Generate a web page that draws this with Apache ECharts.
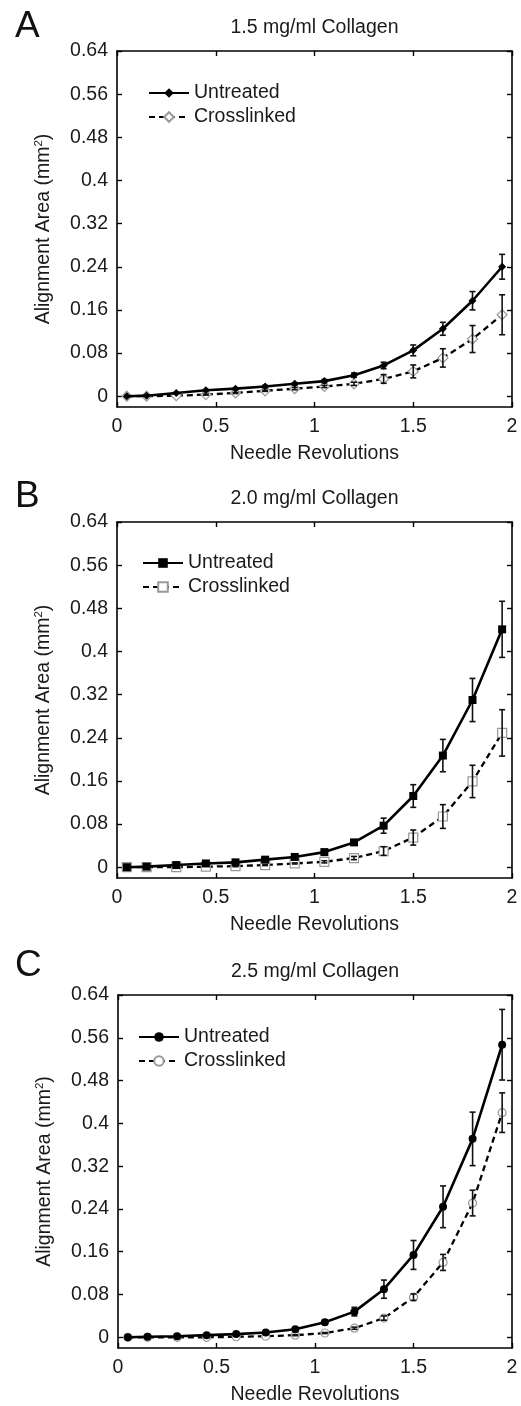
<!DOCTYPE html>
<html>
<head>
<meta charset="utf-8">
<script src="https://cdn.jsdelivr.net/npm/echarts@6/dist/echarts.min.js"></script>
<style>html,body{margin:0;padding:0;background:#fff}#c{width:521px;height:1406px}</style>
</head>
<body>
<div id="c"></div>
<script>
const xVals = [0.05, 0.15, 0.3, 0.45, 0.6, 0.75, 0.9, 1.05, 1.2, 1.35, 1.5, 1.65, 1.8, 1.95];
const yTicks = [0, 0.08, 0.16, 0.24, 0.32, 0.4, 0.48, 0.56, 0.64];
const xTicks = [0, 0.5, 1, 1.5, 2];

const panelLetters = ['A', 'B', 'C'];
const panelTitles = ['1.5 mg/ml Collagen', '2.0 mg/ml Collagen', '2.5 mg/ml Collagen'];
const seriesNames = ['Untreated', 'Crosslinked'];

const aUntreated    = [0, 0.001, 0.006, 0.011, 0.014, 0.018, 0.023, 0.028, 0.039, 0.057, 0.085, 0.125, 0.177, 0.240];
const aUntreatedErr = [0, 0, 0.001, 0.001, 0.001, 0.002, 0.002, 0.003, 0.004, 0.006, 0.010, 0.012, 0.017, 0.023];
const aCross        = [0, 0, 0.001, 0.003, 0.006, 0.010, 0.014, 0.018, 0.023, 0.032, 0.046, 0.071, 0.106, 0.151];
const aCrossErr     = [0, 0, 0, 0.001, 0.001, 0.001, 0.002, 0.002, 0.003, 0.008, 0.012, 0.017, 0.025, 0.037];

const bUntreated    = [0, 0.001, 0.004, 0.007, 0.009, 0.014, 0.019, 0.028, 0.046, 0.077, 0.132, 0.207, 0.310, 0.441];
const bUntreatedErr = [0, 0, 0.001, 0.001, 0.001, 0.002, 0.002, 0.003, 0.005, 0.014, 0.021, 0.030, 0.040, 0.052];
const bCross        = [0, 0, 0, 0.001, 0.002, 0.004, 0.007, 0.010, 0.017, 0.030, 0.055, 0.094, 0.159, 0.249];
const bCrossErr     = [0, 0, 0, 0, 0.001, 0.001, 0.001, 0.002, 0.003, 0.008, 0.014, 0.022, 0.030, 0.043];

const cUntreated    = [0, 0.001, 0.002, 0.004, 0.006, 0.009, 0.015, 0.028, 0.048, 0.090, 0.154, 0.244, 0.371, 0.547];
const cUntreatedErr = [0, 0, 0.001, 0.001, 0.001, 0.002, 0.002, 0.004, 0.008, 0.017, 0.027, 0.039, 0.050, 0.066];
const cCross        = [0, 0, 0, 0, 0.001, 0.002, 0.004, 0.008, 0.017, 0.036, 0.075, 0.140, 0.251, 0.420];
const cCrossErr     = [0, 0, 0, 0, 0, 0, 0.001, 0.001, 0.002, 0.004, 0.006, 0.015, 0.024, 0.037];

const panels = [
  {u: aUntreated, ue: aUntreatedErr, c: aCross, ce: aCrossErr, sym: 'diamond', usz: 8, csz: 10},
  {u: bUntreated, ue: bUntreatedErr, c: bCross, ce: bCrossErr, sym: 'rect', usz: 8, csz: 9},
  {u: cUntreated, ue: cUntreatedErr, c: cCross, ce: cCrossErr, sym: 'circle', usz: 8, csz: 8}
];

const gridTops = [51, 522, 995];
const gridLefts = [117, 117, 118];
const gridH = 356;
const FONT = '"Liberation Sans", Arial, Helvetica, sans-serif';
const TXT = '#1a1a1a';

const grids = [], xAxes = [], yAxes = [], series = [], legends = [], graphics = [];

function pairs(xs, ys) { return xs.map((x, i) => [x, ys[i]]); }
function errTriples(xs, ys, es) { return xs.map((x, i) => [x, ys[i] - es[i], ys[i] + es[i]]); }

function errRender(params, api) {
  const x = api.value(0), lo = api.value(1), hi = api.value(2);
  if (hi - lo <= 0) return null;
  const p1 = api.coord([x, lo]), p2 = api.coord([x, hi]);
  const w = 3;
  const st = {stroke: '#111', lineWidth: 1.6};
  return {type: 'group', children: [
    {type: 'line', shape: {x1: p1[0], y1: p1[1], x2: p2[0], y2: p2[1]}, style: st},
    {type: 'line', shape: {x1: p1[0] - w, y1: p1[1], x2: p1[0] + w, y2: p1[1]}, style: st},
    {type: 'line', shape: {x1: p2[0] - w, y1: p2[1], x2: p2[0] + w, y2: p2[1]}, style: st}
  ]};
}

panels.forEach((p, k) => {
  grids.push({left: gridLefts[k], right: 9, top: gridTops[k], height: gridH, show: false});
  const axLine = {show: true, onZero: false, lineStyle: {color: '#000', width: 1.6}};
  const tickIn = {show: true, inside: true, length: 5, lineStyle: {color: '#000', width: 1.4}};
  xAxes.push({
    type: 'value', gridIndex: k, position: 'bottom', min: 0, max: 2, interval: 0.5,
    axisLine: axLine, axisTick: Object.assign({}, tickIn, {customValues: xTicks}),
    axisLabel: {customValues: xTicks, color: TXT, fontSize: 19.5, fontFamily: FONT, margin: 10},
    splitLine: {show: false},
    name: 'Needle Revolutions', nameLocation: 'middle', nameGap: 37,
    nameTextStyle: {color: TXT, fontSize: 19.5, fontFamily: FONT}
  });
  xAxes.push({
    type: 'value', gridIndex: k, position: 'top', min: 0, max: 2, interval: 0.5,
    axisLine: axLine, axisTick: Object.assign({}, tickIn, {customValues: xTicks}),
    axisLabel: {show: false}, splitLine: {show: false},
    name: panelTitles[k], nameLocation: 'middle', nameGap: 13,
    nameTextStyle: {color: TXT, fontSize: 19.5, fontFamily: FONT}
  });
  yAxes.push({
    type: 'value', gridIndex: k, position: 'left', min: -0.02, max: 0.64,
    axisLine: axLine, axisTick: Object.assign({}, tickIn, {customValues: yTicks}),
    axisLabel: {customValues: yTicks, color: TXT, fontSize: 19.5, fontFamily: FONT, margin: 9},
    splitLine: {show: false},
    name: 'Alignment Area (mm{s|2})', nameLocation: 'middle', nameGap: 62,
    nameTextStyle: {color: TXT, fontSize: 19.5, fontFamily: FONT, lineHeight: 22,
      rich: {s: {fontSize: 11.5, fontFamily: FONT, color: TXT, verticalAlign: 'top', lineHeight: 11}}}
  });
  yAxes.push({
    type: 'value', gridIndex: k, position: 'right', min: -0.02, max: 0.64,
    axisLine: axLine, axisTick: Object.assign({}, tickIn, {customValues: yTicks}),
    axisLabel: {show: false}, splitLine: {show: false}
  });

  const xi = 2 * k, yi = 2 * k;
  const uName = panelLetters[k] + '|' + seriesNames[0];
  const cName = panelLetters[k] + '|' + seriesNames[1];

  series.push({
    type: 'custom', xAxisIndex: xi, yAxisIndex: yi, renderItem: errRender,
    data: errTriples(xVals, p.c, p.ce), encode: {x: 0, y: [1, 2]}, z: 3, silent: true
  });
  series.push({
    type: 'custom', xAxisIndex: xi, yAxisIndex: yi, renderItem: errRender,
    data: errTriples(xVals, p.u, p.ue), encode: {x: 0, y: [1, 2]}, z: 3, silent: true
  });
  series.push({
    name: cName, type: 'line', xAxisIndex: xi, yAxisIndex: yi,
    data: pairs(xVals, p.c), symbol: p.sym, symbolSize: p.csz, showAllSymbol: true,
    lineStyle: {color: '#000', width: 2.3, type: [6, 4]},
    itemStyle: {color: '#fff', borderColor: '#999', borderWidth: 1.2},
    z: 2
  });
  series.push({
    name: uName, type: 'line', xAxisIndex: xi, yAxisIndex: yi,
    data: pairs(xVals, p.u), symbol: p.sym, symbolSize: p.usz, showAllSymbol: true,
    lineStyle: {color: '#000', width: 2.6},
    itemStyle: {color: '#000', borderColor: '#000', borderWidth: 0},
    z: 4
  });

  const legLefts = [148, 142, 138];
  const legTops = [83, 553, 1027];
  legends.push({
    orient: 'vertical', left: legLefts[k], top: legTops[k], padding: 0,
    itemWidth: 40, itemHeight: 12, itemGap: 4,
    data: [uName, cName],
    formatter: n => n.split('|')[1],
    textStyle: {color: TXT, fontSize: 19.5, fontFamily: FONT, padding: [0, 0, 0, 0]},
    selectedMode: false
  });

  graphics.push({
    type: 'text', left: 15, top: [8, 478, 947][k],
    style: {text: panelLetters[k], fill: '#111', font: '37px ' + FONT}
  });
});

const chart = echarts.init(document.getElementById('c'), null, {renderer: 'canvas'});
chart.setOption({
  animation: false,
  backgroundColor: '#fff',
  grid: grids, xAxis: xAxes, yAxis: yAxes, series: series, legend: legends,
  graphic: graphics
});
</script>
</body>
</html>
